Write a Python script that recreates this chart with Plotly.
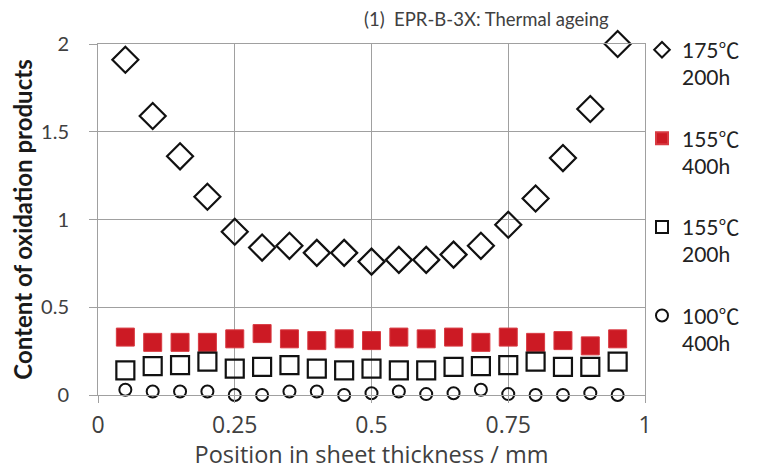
import plotly.graph_objects as go

position = [0.05, 0.10, 0.15, 0.20, 0.25, 0.30, 0.35, 0.40, 0.45, 0.50,
            0.55, 0.60, 0.65, 0.70, 0.75, 0.80, 0.85, 0.90, 0.95]

s175_200h = [1.91, 1.59, 1.36, 1.13, 0.93, 0.84, 0.85, 0.81, 0.81, 0.76,
             0.77, 0.77, 0.80, 0.85, 0.97, 1.12, 1.35, 1.63, 2.00]
s155_400h = [0.33, 0.30, 0.30, 0.30, 0.32, 0.35, 0.32, 0.31, 0.32, 0.31,
             0.33, 0.32, 0.33, 0.30, 0.33, 0.30, 0.31, 0.28, 0.32]
s155_200h = [0.14, 0.165, 0.17, 0.19, 0.15, 0.16, 0.17, 0.15, 0.14, 0.15,
             0.14, 0.14, 0.16, 0.165, 0.17, 0.19, 0.16, 0.16, 0.19]
s100_400h = [0.03, 0.02, 0.02, 0.02, 0.0, 0.0, 0.02, 0.02, 0.0, 0.01,
             0.02, 0.005, 0.01, 0.03, 0.005, 0.0, 0.0, 0.01, 0.0]

temps = ["175", "155", "155", "100"]
hours = ["200h", "400h", "200h", "400h"]
x_ticks = [0, 0.25, 0.5, 0.75, 1]
x_tick_labels = ["0", "0.25", "0.5", "0.75", "1"]
y_ticks = [0, 0.5, 1, 1.5, 2]
y_tick_labels = ["0", "0.5", "1", "1.5", "2"]

CAL = "Lato, 'Open Sans', sans-serif"
SEG = "'Open Sans', 'Noto Sans', sans-serif"
DEG = "<span style='font-family:\"Noto Sans CJK SC\"'>℃</span>"
names = [f"{t}{DEG}<br>{h}" for t, h in zip(temps, hours)]

fig = go.Figure()
fig.add_trace(go.Scatter(x=position, y=s175_200h, mode="markers", name=names[0],
                         legendgroup="a",
                         marker=dict(symbol="diamond-open", size=20,
                                     color="#111111", line=dict(width=2.2, color="#111111")),
                         cliponaxis=False))
fig.add_trace(go.Scatter(x=position, y=s155_400h, mode="markers", name=names[1],
                         legendgroup="b",
                         marker=dict(symbol="square", size=18, color="#cc1a24",
                                     line=dict(width=1, color="#d83a42")),
                         cliponaxis=False))
fig.add_trace(go.Scatter(x=position, y=s155_200h, mode="markers", name=names[2],
                         legendgroup="c",
                         marker=dict(symbol="square-open", size=18,
                                     color="#111111", line=dict(width=2.2, color="#111111")),
                         cliponaxis=False))
fig.add_trace(go.Scatter(x=position, y=s100_400h, mode="markers", name=names[3],
                         legendgroup="d",
                         marker=dict(symbol="circle-open", size=12,
                                     color="#111111", line=dict(width=2, color="#111111")),
                         cliponaxis=False))

fig.update_layout(
    width=758, height=462,
    margin=dict(l=90, r=121, t=36, b=75),
    paper_bgcolor="white", plot_bgcolor="white",
    font=dict(family=SEG, size=18, color="#404040"),
    legend=dict(x=0.9945, y=1.041, xanchor="left", yanchor="top",
                font=dict(size=21, color="#222222", family=CAL),
                tracegroupgap=31, itemwidth=30, valign="top",
                itemsizing="constant", maxheight=420,
                bgcolor="rgba(0,0,0,0)"),
    annotations=[dict(text="(1)  EPR-B-3X: Thermal ageing", xref="paper", yref="paper",
                      x=0.4826, y=1.071, xanchor="left", yanchor="middle", showarrow=False,
                      font=dict(size=18.5, color="#404040", family=CAL))],
)
fig.update_xaxes(range=[0, 1], tickvals=x_ticks, ticktext=x_tick_labels,
                 automargin=False,
                 showgrid=True, gridcolor="#a0a0a0", gridwidth=1,
                 showline=True, linecolor="#a0a0a0", mirror=True, zeroline=False,
                 ticks="outside", ticklen=7, tickcolor="#a0a0a0",
                 ticklabelstandoff=2,
                 tickfont=dict(size=23, color="#404040", family=SEG),
                 title=dict(text="Position in sheet thickness / mm", standoff=8,
                            font=dict(size=23.5, color="#404040", family=SEG)))
fig.update_yaxes(range=[0, 2], tickvals=y_ticks, ticktext=y_tick_labels,
                 automargin=False,
                 showgrid=True, gridcolor="#a0a0a0", gridwidth=1,
                 showline=True, linecolor="#a0a0a0", mirror=True, zeroline=False,
                 ticks="outside", ticklen=8, tickcolor="#a0a0a0",
                 ticklabelstandoff=16,
                 tickfont=dict(size=20, color="#404040", family=CAL),
                 title=dict(text="<b>Content of oxidation products</b>", standoff=4,
                            font=dict(size=24, color="#1a1a1a", family=CAL)))

fig.write_html("out.html")
